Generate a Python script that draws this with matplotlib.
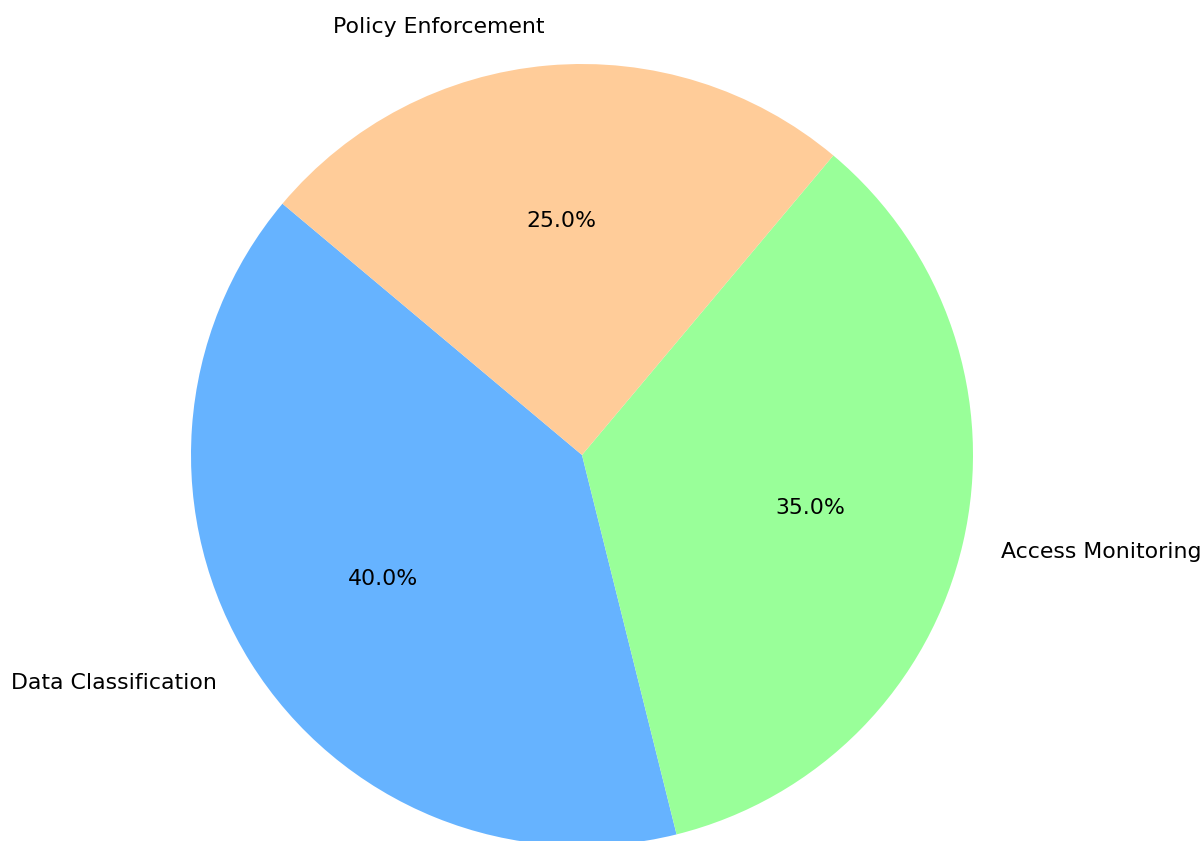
import matplotlib
matplotlib.use("Agg")
import matplotlib.pyplot as plt

categories = ["Data Classification", "Access Monitoring", "Policy Enforcement"]
values = [40, 35, 25]
colors = ["#66b3ff", "#99ff99", "#ffcc99"]

W, H, DPI = 1202, 841, 100
fig = plt.figure(figsize=(W / DPI, H / DPI), dpi=DPI)
ax = fig.add_axes([0, 0, 1, 1])

ax.pie(values, labels=categories, colors=colors, autopct="%1.1f%%",
       startangle=140, textprops={"fontsize": 15.8, "family": "DejaVu Sans"})

cx, cy, r = 582, 455, 391
ax.set_xlim(-cx / r, (W - cx) / r)
ax.set_ylim(-(H - cy) / r, cy / r)
ax.set_aspect("auto")
ax.axis("off")

fig.savefig("out.png", dpi=DPI)
